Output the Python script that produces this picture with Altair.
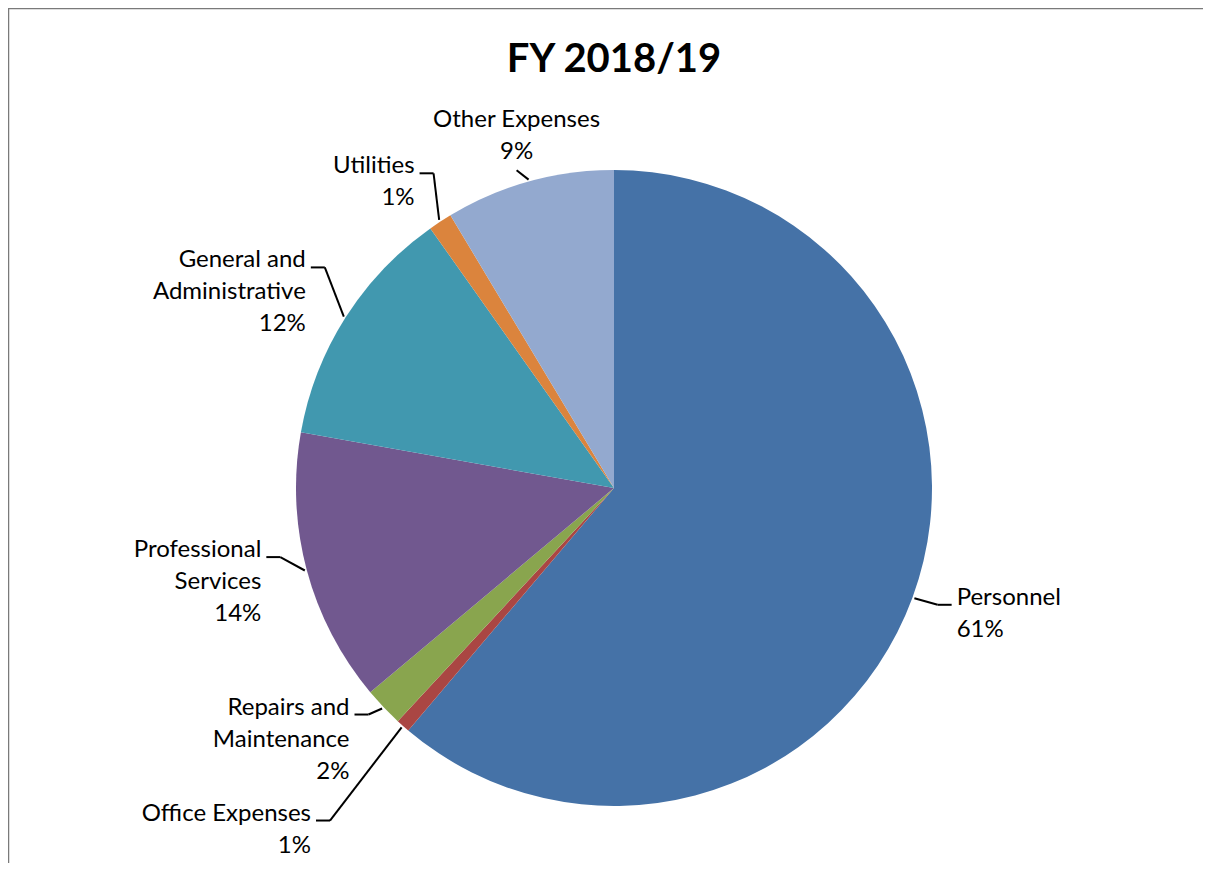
import math
import textwrap
import altair as alt
import pandas as pd

# ---------------- data ----------------
title_text = "FY 2018/19"
categories = [
    "Personnel",
    "Office Expenses",
    "Repairs and Maintenance",
    "Professional Services",
    "General and Administrative",
    "Utilities",
    "Other Expenses",
]
shares = [61.2, 0.7, 2.0, 13.9, 12.4, 1.2, 8.6]
colors = ["#4572A7", "#AA4643", "#89A54E", "#71588F", "#4198AF", "#DB843D", "#93A9CF"]

# ---------------- layout ----------------
W, H = 1195, 855          # view size (px)
CX, CY = 606, 480         # pie centre inside the view (px)
R = 318                   # pie radius (px)
LABEL_GAP = 47            # distance of label anchor beyond pie edge
LH = 32                   # label line height
FONT = "Lato"
FS = 24
WRAP = 15
PAD = 10

total = sum(shares)
labels = []
cum = 0.0
for i, (cat, v) in enumerate(zip(categories, shares)):
    mid = (cum + v / 2) / total * 2 * math.pi
    cum += v
    s, c = math.sin(mid), math.cos(mid)
    lines = textwrap.wrap(cat, WRAP) + [f"{round(v / total * 100)}%"]
    D = R + LABEL_GAP
    align = "center" if abs(s) < 0.35 else ("left" if s > 0 else "right")
    labels.append(dict(idx=i, category=cat, s=s, c=c, n=len(lines),
                       text="\n".join(lines), lx=D * s, ly=D * c, align=align))

# simple collision avoidance: push labels down along their ray
for side in ("right", "left"):
    grp = sorted([l for l in labels if l["align"] == side], key=lambda l: -l["ly"])
    prev_bottom = float("inf")
    for l in grp:
        half = l["n"] * LH / 2
        if l["ly"] + half > prev_bottom - PAD:
            l["ly"] = prev_bottom - PAD - half
            if abs(l["c"]) > 0.2:
                l["lx"] = l["ly"] * l["s"] / l["c"]
        prev_bottom = l["ly"] - half

segments = []
for l in labels:
    # first text line centre (block is centred on ly)
    l["ty"] = l["ly"] + (l["n"] - 1) * LH / 2
    ex, ey = (R + 2) * l["s"], (R + 2) * l["c"]
    fy = l["ty"] - 7
    if l["align"] == "right":
        segments.append(dict(x=l["lx"] + 5, y=fy, x2=l["lx"] + 19, y2=fy))
        segments.append(dict(x=l["lx"] + 19, y=fy, x2=ex, y2=ey))
    elif l["align"] == "left":
        segments.append(dict(x=l["lx"] - 5, y=fy, x2=l["lx"] - 19, y2=fy))
        segments.append(dict(x=l["lx"] - 19, y=fy, x2=ex, y2=ey))
    else:
        segments.append(dict(x=l["lx"], y=l["ly"] - l["n"] * LH / 2 - 2, x2=ex, y2=ey))

pie_df = pd.DataFrame({"idx": list(range(len(categories))), "category": categories, "value": shares})
lab_df = pd.DataFrame(labels)
seg_df = pd.DataFrame(segments)

xs = alt.Scale(domain=[-CX, W - CX], range=[0, W], nice=False, zero=False)
ys = alt.Scale(domain=[-(H - CY), CY], range=[H, 0], nice=False, zero=False)

pie = alt.Chart(pie_df).mark_arc(radius=R).encode(
    theta=alt.Theta("value:Q", stack=True),
    order=alt.Order("idx:Q"),
    color=alt.Color("category:N", scale=alt.Scale(domain=categories, range=colors), legend=None),
    x=alt.X(datum=0, type="quantitative", scale=xs, axis=None),
    y=alt.Y(datum=0, type="quantitative", scale=ys, axis=None),
)

lead = alt.Chart(seg_df).mark_rule(color="black", strokeWidth=2).encode(
    x=alt.X("x:Q", scale=xs, axis=None),
    y=alt.Y("y:Q", scale=ys, axis=None),
    x2="x2:Q",
    y2="y2:Q",
)

def label_layer(side):
    return alt.Chart(lab_df).transform_filter(
        alt.datum.align == side
    ).mark_text(
        align=side, baseline="middle", lineBreak="\n", lineHeight=LH,
        font=FONT, fontSize=FS, color="black",
    ).encode(
        x=alt.X("lx:Q", scale=xs, axis=None),
        y=alt.Y("ty:Q", scale=ys, axis=None),
        text="text:N",
    )

title = alt.Chart(pd.DataFrame({"t": [title_text]})).mark_text(
    font=FONT, fontSize=40, fontWeight="bold", color="black", baseline="alphabetic", align="center"
).encode(x=alt.value(CX), y=alt.value(64), text="t:N")

frame = alt.Chart(pd.DataFrame({"a": [0]})).mark_rect(
    fill=None, stroke="#7a7a7a", strokeWidth=2.5
).encode(x=alt.value(0), x2=alt.value(W + 60), y=alt.value(0), y2=alt.value(H + 60))

chart = alt.layer(
    pie, lead, label_layer("left"), label_layer("right"), label_layer("center"), title, frame
).properties(
    width=W, height=H, autosize="none", padding=0, background="white"
).configure_view(stroke=None)

chart.save("out.html", embed_options={"renderer": "svg", "actions": False})
